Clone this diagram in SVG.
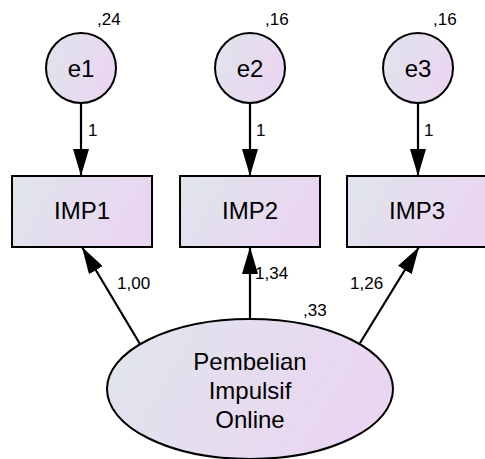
<svg xmlns="http://www.w3.org/2000/svg" width="485" height="459" viewBox="0 0 485 459">
<defs>
<linearGradient id="g" x1="0" y1="0" x2="1" y2="0.3">
<stop offset="0" stop-color="#dfe5ec"/>
<stop offset="1" stop-color="#ead6f1"/>
</linearGradient>
<marker id="big" viewBox="0 0 27 16" refX="27" refY="8" markerWidth="27" markerHeight="16" markerUnits="userSpaceOnUse" orient="auto"><path d="M0,0 L27,8 L0,16 Z" fill="#000"/></marker>
</defs>
<style>
.shape{fill:url(#g);stroke:#000;stroke-width:2}
.lbl{font-family:"Liberation Sans",Arial,sans-serif;fill:#000}
.name{font-size:24px;text-anchor:middle}
.num{font-size:17px}
.edge{stroke:#000;stroke-width:2.2;fill:none;marker-end:url(#big)}
</style>
<g id="connectors">
<line class="edge" x1="81" y1="103" x2="81" y2="176"/>
<line class="edge" x1="250" y1="103" x2="250" y2="176"/>
<line class="edge" x1="418" y1="103" x2="418" y2="176"/>
<line class="edge" x1="140" y1="344" x2="82" y2="247"/>
<line class="edge" x1="250" y1="319" x2="250" y2="247"/>
<line class="edge" x1="360" y1="343" x2="419" y2="247"/>
<text class="lbl num" x="88" y="136">1</text>
<text class="lbl num" x="256" y="136">1</text>
<text class="lbl num" x="424" y="136">1</text>
<text class="lbl num" x="117" y="289">1,00</text>
<text class="lbl num" x="255" y="279">1,34</text>
<text class="lbl num" x="350" y="289">1,26</text>
</g>
<g id="e1">
<circle class="shape" cx="81" cy="68" r="35"/>
<text class="lbl name" x="81" y="77">e1</text>
<text class="lbl num" x="97" y="25">,24</text>
</g>
<g id="e2">
<circle class="shape" cx="250" cy="68" r="35"/>
<text class="lbl name" x="250" y="77">e2</text>
<text class="lbl num" x="265" y="25">,16</text>
</g>
<g id="e3">
<circle class="shape" cx="418" cy="68" r="35"/>
<text class="lbl name" x="418" y="77">e3</text>
<text class="lbl num" x="433" y="25">,16</text>
</g>
<g id="IMP1">
<rect class="shape" x="12" y="176" width="140" height="71"/>
<text class="lbl name" x="82" y="219">IMP1</text>
</g>
<g id="IMP2">
<rect class="shape" x="180" y="176" width="140" height="71"/>
<text class="lbl name" x="250" y="219">IMP2</text>
</g>
<g id="IMP3">
<rect class="shape" x="347" y="176" width="139" height="71"/>
<text class="lbl name" x="417" y="219">IMP3</text>
</g>
<g id="Pembelian">
<ellipse class="shape" cx="250" cy="389" rx="143" ry="70"/>
<text class="lbl name" x="250" y="370">Pembelian</text>
<text class="lbl name" x="250" y="399">Impulsif</text>
<text class="lbl name" x="250" y="428">Online</text>
<text class="lbl num" x="303" y="316">,33</text>
</g>
</svg>
